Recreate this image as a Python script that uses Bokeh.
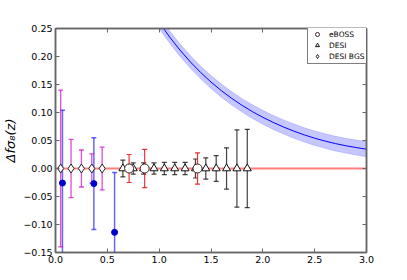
import math
from bokeh.plotting import figure
from bokeh.models import (LinearAxis, FixedTicker, Label, Legend, LegendItem, Range1d, Span)
from bokeh.embed import file_html
from bokeh.resources import INLINE

# ---------------- data ----------------
eboss_z = [0.71, 0.86, 1.37]
eboss_dfs8 = [0.0, 0.0, 0.0]
eboss_err = [0.025, 0.034, 0.028]

desi_z = [0.65, 0.75, 0.85, 0.95, 1.05, 1.15, 1.25, 1.35, 1.45, 1.55, 1.65, 1.75, 1.85]
desi_dfs8 = [0.0, 0.0, 0.0, 0.0, 0.0, 0.0, 0.0, 0.0, 0.0, 0.0, 0.0, 0.0, 0.0]
desi_err = [0.015, 0.010, 0.010, 0.010, 0.011, 0.011, 0.011, 0.017, 0.019, 0.023, 0.037, 0.069, 0.070]

bgs_z = [0.05, 0.15, 0.25, 0.35, 0.45]
bgs_dfs8 = [0.0, 0.0, 0.0, 0.0, 0.0]
bgs_err = [0.140, 0.052, 0.033, 0.026, 0.038]

obs_z = [0.067, 0.37, 0.57]
obs_dfs8 = [-0.026, -0.027, -0.114]
obs_err = [0.130, 0.082, 0.107]

model_z = [1.0, 1.1, 1.2, 1.3, 1.4, 1.5, 1.6, 1.7, 1.8, 1.9, 2.0,
           2.1, 2.2, 2.3, 2.4, 2.5, 2.6, 2.7, 2.8, 2.9, 3.0]
model_dfs8 = [0.261, 0.235, 0.2116, 0.1905, 0.1715, 0.1544, 0.139, 0.1252, 0.1127, 0.1015, 0.0914,
              0.0823, 0.0741, 0.0667, 0.060, 0.0541, 0.049, 0.0445, 0.0407, 0.0374, 0.0345]
model_err = [0.011, 0.011, 0.011, 0.0112, 0.0114, 0.0116, 0.0118, 0.012, 0.012, 0.0122, 0.0124,
             0.0125, 0.0126, 0.0127, 0.0128, 0.0129, 0.013, 0.0131, 0.0132, 0.0133, 0.0135]

x_ticks = [0.0, 0.5, 1.0, 1.5, 2.0, 2.5, 3.0]
x_tick_labels = ["0.0", "0.5", "1.0", "1.5", "2.0", "2.5", "3.0"]
y_ticks = [-0.15, -0.10, -0.05, 0.0, 0.05, 0.10, 0.15, 0.20, 0.25]
y_tick_labels = ["\u22120.15", "\u22120.10", "\u22120.05", "0.00", "0.05", "0.10", "0.15", "0.20", "0.25"]

x_label = "z"
y_label = "\u0394f\u03c3\u2088(z)"
legend_labels = ["eBOSS", "DESI", "DESI BGS"]

# ---------------- figure ----------------
FONT = "DejaVu Sans"
AXIS_COLOR = "#666666"

p = figure(width=407, height=280, x_range=Range1d(0, 3), y_range=Range1d(-0.15, 0.25),
           output_backend="svg", toolbar_location=None,
           min_border_left=51, min_border_right=41, min_border_top=28, min_border_bottom=28)
p.xgrid.visible = False
p.ygrid.visible = False
p.outline_line_color = AXIS_COLOR
p.outline_line_width = 1.5
p.background_fill_color = "white"
p.border_fill_color = "white"

xt = FixedTicker(ticks=x_ticks, minor_ticks=[])
yt = FixedTicker(ticks=y_ticks, minor_ticks=[])


def style_axis(ax, ticker, labels, show):
    ax.ticker = ticker
    ax.major_label_overrides = {t: l for t, l in zip(ticker.ticks, labels)}
    ax.major_tick_in = 4
    ax.major_tick_out = 0
    ax.minor_tick_in = 0
    ax.minor_tick_out = 0
    ax.axis_line_color = AXIS_COLOR
    ax.axis_line_width = 1.5
    ax.major_tick_line_color = AXIS_COLOR
    ax.major_tick_line_width = 1
    ax.major_label_text_font = FONT
    ax.major_label_text_font_size = "9.5px"
    ax.major_label_standoff = 3
    ax.major_label_text_color = "black" if show else None


style_axis(p.xaxis[0], xt, x_tick_labels, True)
style_axis(p.yaxis[0], yt, y_tick_labels, True)
top_ax = LinearAxis()
right_ax = LinearAxis()
style_axis(top_ax, xt, x_tick_labels, False)
style_axis(right_ax, yt, y_tick_labels, False)
p.add_layout(top_ax, "above")
p.add_layout(right_ax, "right")

# y axis title
p.yaxis[0].axis_label = y_label
p.yaxis[0].axis_label_text_font = FONT
p.yaxis[0].axis_label_text_font_style = "italic"
p.yaxis[0].axis_label_text_font_size = "13px"
p.yaxis[0].axis_label_text_color = "black"
p.yaxis[0].axis_label_standoff = 2

# zero reference line
zero = Span(location=0, dimension="width", line_color="#ff7f7f", line_width=2, level="underlay")
p.add_layout(zero)

# model band and line
band_lo = [m - e for m, e in zip(model_dfs8, model_err)]
band_hi = [m + e for m, e in zip(model_dfs8, model_err)]
p.varea(x=model_z, y1=band_lo, y2=band_hi, fill_color="#0000ff", fill_alpha=0.22)
p.line(x=model_z, y=band_lo, line_color="#0000ff", line_alpha=0.15, line_width=1)
p.line(x=model_z, y=band_hi, line_color="#0000ff", line_alpha=0.15, line_width=1)
p.line(x=model_z, y=model_dfs8, line_color="#0000ff", line_width=1)


def errorbars(z, y, err, color, alpha, width, cap):
    lo = [a - b for a, b in zip(y, err)]
    hi = [a + b for a, b in zip(y, err)]
    p.segment(x0=z, y0=lo, x1=z, y1=hi, line_color=color, line_alpha=alpha, line_width=width)
    p.scatter(x=z + z, y=lo + hi, marker="dash", size=cap, line_color=color,
              line_alpha=alpha, line_width=width)


errorbars(obs_z, obs_dfs8, obs_err, "#0000ff", 0.6, 1.5, 5)
errorbars(bgs_z, bgs_dfs8, bgs_err, "#cc00cc", 0.7, 1.3, 5)
errorbars(desi_z, desi_dfs8, desi_err, "#222222", 0.85, 1.2, 5)
errorbars(eboss_z, eboss_dfs8, eboss_err, "#ee1111", 0.85, 1.2, 5)

obs_r = p.scatter(x=obs_z, y=obs_dfs8, marker="circle", size=6, fill_color="#0000cc",
                  line_color="#0000cc")
bgs_r = p.scatter(x=bgs_z, y=bgs_dfs8, marker="diamond", size=9, fill_color="white",
                  line_color="#222222", line_width=1)
desi_r = p.scatter(x=desi_z, y=desi_dfs8, marker="triangle", size=8, fill_color="white",
                   line_color="#111111", line_width=1)
eboss_r = p.scatter(x=eboss_z, y=eboss_dfs8, marker="circle", size=9, fill_color="white",
                    line_color="#3a2222", line_width=1)

# legend-only vertical error bar glyphs
empty = []
leg_eb = p.scatter(x=empty, y=empty, marker="dash", angle=math.pi / 2, size=11,
                   line_color="#ee1111", line_alpha=0.7)
leg_de = p.scatter(x=empty, y=empty, marker="dash", angle=math.pi / 2, size=11,
                   line_color="#222222", line_alpha=0.7)
leg_bg = p.scatter(x=empty, y=empty, marker="dash", angle=math.pi / 2, size=11,
                   line_color="#cc00cc", line_alpha=0.7)

legend = Legend(items=[
    LegendItem(label=legend_labels[0], renderers=[leg_eb, eboss_r]),
    LegendItem(label=legend_labels[1], renderers=[leg_de, desi_r]),
    LegendItem(label=legend_labels[2], renderers=[leg_bg, bgs_r]),
], location=(252, 188))
legend.label_text_font = FONT
legend.label_text_font_size = "7.5px"
legend.label_text_color = "black"
legend.glyph_width = 14
legend.glyph_height = 10
legend.label_height = 10
legend.label_standoff = 5
legend.padding = 2
legend.spacing = 1
legend.margin = 0
legend.border_line_color = "black"
legend.border_line_width = 1
legend.background_fill_color = "white"
legend.background_fill_alpha = 1
p.add_layout(legend, "center")

# x axis title drawn as a label below the tick labels
p.add_layout(Label(x=1.5, y=-0.1821, text=x_label, text_font=FONT, text_font_style="italic",
                   text_font_size="14px", text_align="center", text_baseline="middle",
                   text_color="black"))

open("out.html", "w").write(file_html(p, INLINE))
